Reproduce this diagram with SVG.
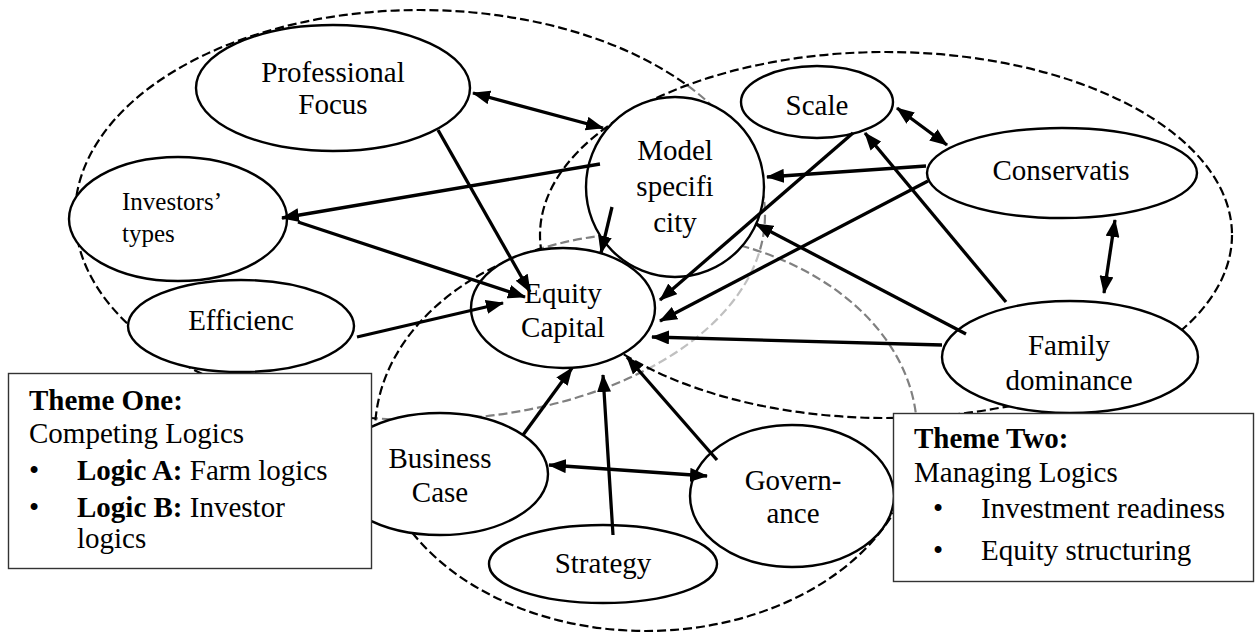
<svg xmlns="http://www.w3.org/2000/svg" width="1259" height="632" viewBox="0 0 1259 632">
  <defs>
    <marker id="ah" viewBox="0 0 18 14" refX="17" refY="7" markerWidth="18" markerHeight="14" markerUnits="userSpaceOnUse" orient="auto-start-reverse">
      <path d="M0,0 L18,7 L0,14 z" fill="#000"/>
    </marker>
    <style>
      .zone { stroke: #000; stroke-width: 2.2; stroke-dasharray: 9 4; }
      .node ellipse { fill: #fff; stroke: #000; stroke-width: 2.4; }
      .lbl { font-family: "Liberation Serif", "Times New Roman", serif; font-size: 29px; fill: #000; }
      .mid { text-anchor: middle; }
      .b { font-weight: bold; }
      .box rect { fill: #fff; stroke: #333; stroke-width: 1.4; }
      #connectors path { fill: none; stroke: #000; stroke-width: 3.3; marker-end: url(#ah); }
      #connectors path.both { marker-start: url(#ah); }
    </style>
  </defs>

  <rect width="1259" height="632" fill="#fff"/>

  <!-- theme zones: dashed outlines, later zones veil earlier outlines -->
  <g id="zones">
    <ellipse class="zone" cx="420" cy="215" rx="345" ry="205" fill="none"/>
    <ellipse class="zone" cx="646" cy="432" rx="271" ry="199" fill="#fff" fill-opacity="0.5"/>
    <ellipse class="zone" cx="886" cy="235" rx="346" ry="183" fill="#fff" fill-opacity="0.5"/>
  </g>

  <g id="professional-focus" class="node">
    <ellipse cx="333" cy="88" rx="137" ry="63"/>
    <text class="lbl mid" x="333" y="82">Professional</text>
    <text class="lbl mid" x="333" y="114">Focus</text>
  </g>

  <g id="investors-types" class="node">
    <ellipse cx="178" cy="219" rx="109" ry="62"/>
    <text class="lbl" x="122" y="210" style="font-size:25px">Investors’</text>
    <text class="lbl" x="122" y="242" style="font-size:25px">types</text>
  </g>

  <g id="efficiency" class="node">
    <ellipse cx="241" cy="326" rx="113" ry="46"/>
    <text class="lbl mid" x="241" y="330">Efficienc</text>
  </g>

  <g id="model-specificity" class="node">
    <ellipse cx="675" cy="187" rx="89" ry="90"/>
    <text class="lbl mid" x="675" y="160">Model</text>
    <text class="lbl mid" x="675" y="196">specifi</text>
    <text class="lbl mid" x="675" y="232">city</text>
  </g>

  <g id="equity-capital" class="node">
    <ellipse cx="563" cy="308" rx="92" ry="60"/>
    <text class="lbl mid" x="563" y="303">Equity</text>
    <text class="lbl mid" x="563" y="337">Capital</text>
  </g>

  <g id="scale" class="node">
    <ellipse cx="817" cy="102" rx="76" ry="36"/>
    <text class="lbl mid" x="817" y="115">Scale</text>
  </g>

  <g id="conservatism" class="node">
    <ellipse cx="1062" cy="173" rx="135" ry="45"/>
    <text class="lbl mid" x="1061" y="180">Conservatis</text>
  </g>

  <g id="family-dominance" class="node">
    <ellipse cx="1070" cy="357" rx="128" ry="56"/>
    <text class="lbl mid" x="1069" y="355">Family</text>
    <text class="lbl mid" x="1069" y="390">dominance</text>
  </g>

  <g id="business-case" class="node">
    <ellipse cx="440" cy="474" rx="108" ry="61"/>
    <text class="lbl mid" x="440" y="468">Business</text>
    <text class="lbl mid" x="440" y="502">Case</text>
  </g>

  <g id="strategy" class="node">
    <ellipse cx="603" cy="564" rx="114" ry="39"/>
    <text class="lbl mid" x="603" y="573">Strategy</text>
  </g>

  <g id="governance" class="node">
    <ellipse cx="792" cy="496" rx="102" ry="71"/>
    <text class="lbl mid" x="793" y="490">Govern-</text>
    <text class="lbl mid" x="793" y="523">ance</text>
  </g>

  <g id="connectors">
    <path class="both" d="M473,93 L603,128"/>
    <path d="M438,130 L530,292"/>
    <path d="M600,164 L282,218"/>
    <path d="M298,222 L525,297"/>
    <path d="M357,337 L503,303"/>
    <path d="M612,207 L601,253"/>
    <path d="M853,133 L660,300"/>
    <path d="M926,166 L767,177"/>
    <path d="M928,181 L660,321"/>
    <path class="both" d="M897,108 L947,145"/>
    <path class="both" d="M1115,220 L1104,293"/>
    <path d="M1006,302 L865,133"/>
    <path d="M966,334 L756,224"/>
    <path d="M942,345 L652,337"/>
    <path d="M523,435 L572,368"/>
    <path d="M613,535 L603,375"/>
    <path d="M717,460 L627,357"/>
    <path class="both" d="M549,465 L707,476"/>
  </g>

  <g id="theme-one" class="box">
    <rect x="8.5" y="373.5" width="363" height="195"/>
    <text class="lbl b" x="29" y="410">Theme One:</text>
    <text class="lbl" x="29" y="443">Competing Logics</text>
    <text class="lbl" x="29" y="480">•</text>
    <text class="lbl" x="77" y="480"><tspan class="b">Logic A:</tspan> Farm logics</text>
    <text class="lbl" x="29" y="517">•</text>
    <text class="lbl" x="77" y="517"><tspan class="b">Logic B:</tspan> Investor</text>
    <text class="lbl" x="77" y="548">logics</text>
  </g>

  <g id="theme-two" class="box">
    <rect x="893.5" y="413.5" width="360" height="168"/>
    <text class="lbl b" x="914" y="448">Theme Two:</text>
    <text class="lbl" x="914" y="482">Managing Logics</text>
    <text class="lbl" x="933" y="518">•</text>
    <text class="lbl" x="981" y="518">Investment readiness</text>
    <text class="lbl" x="933" y="560">•</text>
    <text class="lbl" x="981" y="560">Equity structuring</text>
  </g>
</svg>
